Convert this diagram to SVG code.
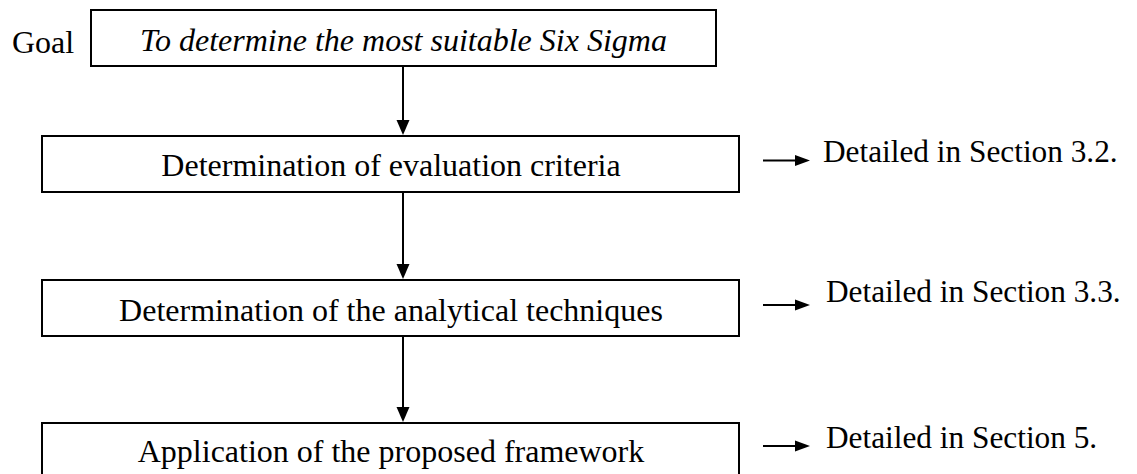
<svg xmlns="http://www.w3.org/2000/svg" width="1137" height="474" viewBox="0 0 1137 474">
  <style>
    .box { fill: #fff; stroke: #000; stroke-width: 2; }
    .t { font-family: "Liberation Serif", "Times New Roman", serif; font-size: 32px; fill: #000; }
    .n { font-size: 31.3px; }
    .c { text-anchor: middle; }
    .i { font-style: italic; }
    .conn { stroke: #000; stroke-width: 2; fill: none; }
    .v { marker-end: url(#ahV); }
    .h { marker-end: url(#ahH); }
  </style>
  <defs>
    <marker id="ahV" markerUnits="userSpaceOnUse" markerWidth="16" markerHeight="14" refX="7" refY="6.5" orient="auto" overflow="visible">
      <path d="M0,0 L15,6.5 L0,13 Z" fill="#000"/>
    </marker>
    <marker id="ahH" markerUnits="userSpaceOnUse" markerWidth="16" markerHeight="12" refX="7" refY="5.5" orient="auto" overflow="visible">
      <path d="M0,0 L15,5.5 L0,11 Z" fill="#000"/>
    </marker>
  </defs>

  <text class="t" x="12" y="53" font-family="Liberation Serif, serif">Goal</text>

  <g id="goal">
    <rect class="box" x="91" y="10" width="625" height="56"/>
    <text class="t c i" x="403.5" y="51" font-family="Liberation Serif, serif">To determine the most suitable Six Sigma</text>
  </g>

  <g id="criteria">
    <rect class="box" x="42" y="136" width="697" height="56"/>
    <text class="t c" x="391" y="176">Determination of evaluation criteria</text>
  </g>

  <g id="techniques">
    <rect class="box" x="42" y="280" width="697" height="56"/>
    <text class="t c" x="391" y="321">Determination of the analytical techniques</text>
  </g>

  <g id="framework">
    <rect class="box" x="42" y="423" width="697" height="70"/>
    <text class="t c" x="391" y="462">Application of the proposed framework</text>
  </g>

  <g id="note32">
    <text class="t n" x="823" y="162">Detailed in Section 3.2.</text>
  </g>
  <g id="note33">
    <text class="t n" x="826" y="302">Detailed in Section 3.3.</text>
  </g>
  <g id="note5">
    <text class="t n" x="826" y="448">Detailed in Section 5.</text>
  </g>

  <g id="connectors">
    <line class="conn v" x1="403" y1="66" x2="403" y2="127"/>
    <line class="conn v" x1="403" y1="192" x2="403" y2="271"/>
    <line class="conn v" x1="403" y1="336" x2="403" y2="414"/>
    <line class="conn h" x1="763" y1="160.5" x2="802" y2="160.5"/>
    <line class="conn h" x1="763" y1="305" x2="802" y2="305"/>
    <line class="conn h" x1="763" y1="446" x2="802" y2="446"/>
  </g>
</svg>
